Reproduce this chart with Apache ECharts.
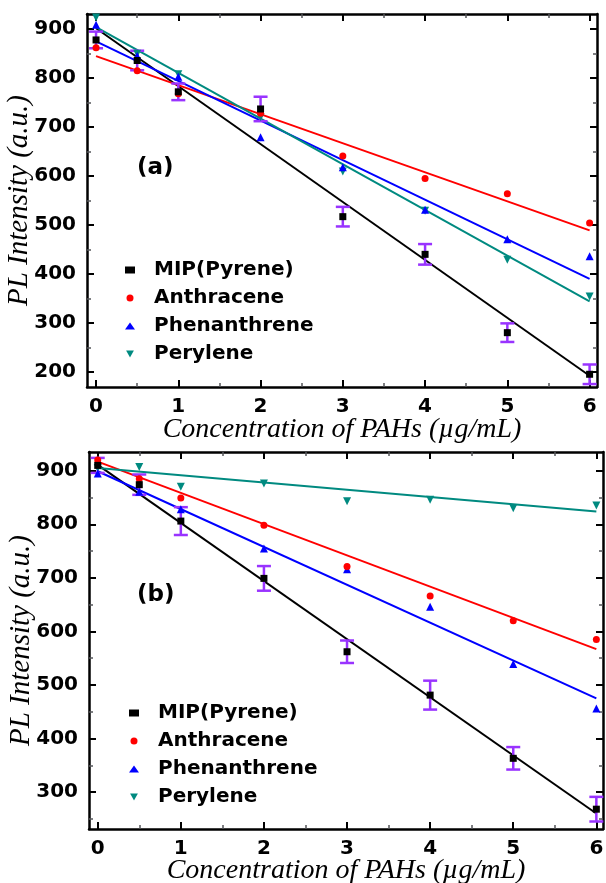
<!DOCTYPE html>
<html>
<head>
<meta charset="utf-8">
<script src="https://cdn.jsdelivr.net/npm/echarts@6/dist/echarts.min.js"></script>
<style>
  html, body { margin: 0; padding: 0; background: #fff; }
  #chart { width: 606px; height: 883px; }
</style>
</head>
<body>
<div id="chart"></div>
<script>
// concentrations (ug/mL)
var xConc = [0, 0.5, 1, 2, 3, 4, 5, 6];
var seriesNames = ['MIP(Pyrene)', 'Anthracene', 'Phenanthrene', 'Perylene'];

// panel (a)
var aPyrene = [878, 836, 772, 737, 517, 440, 280, 195];
var aPyreneErr = [17, 20, 17, 25, 20, 21, 19, 20];
var aAnthracene = [862, 815, 768, 728, 641, 595, 564, 504];
var aPhenanthrene = [909, 845, 803, 679, 618, 531, 471, 436];
var aPerylene = [924, 850, 808, 720, 609, 529, 429, 354];
// fitted lines, value at x=0 and x=6
var aFitPyrene = [902, 192];
var aFitAnthracene = [845, 489];
var aFitPhenanthrene = [875, 390];
var aFitPerylene = [904, 344];

// panel (b)
var bPyrene = [910, 874, 806, 699, 562, 481, 363, 268];
var bPyreneErr = [14, 19, 26, 23, 21, 27, 21, 23];
var bAnthracene = [920, 885, 849, 798, 721, 666, 620, 585];
var bPhenanthrene = [895, 861, 828, 755, 716, 646, 539, 456];
var bPerylene = [905, 907, 870, 876, 843, 846, 830, 835];
var bFitPyrene = [911, 260];
var bFitAnthracene = [917, 567];
var bFitPhenanthrene = [899, 475];
var bFitPerylene = [905, 824];

var fitEnds = [0, 6];
var xTicks = [0, 1, 2, 3, 4, 5, 6];
var xMinor = [0.5, 1.5, 2.5, 3.5, 4.5, 5.5];
var aYTicks = [200, 300, 400, 500, 600, 700, 800, 900];
var aYMinor = [250, 350, 450, 550, 650, 750, 850];
var bYTicks = [300, 400, 500, 600, 700, 800, 900];
var bYMinor = [250, 350, 450, 550, 650, 750, 850];

var colors = ['#000000', '#ff0000', '#0000ff', '#008a80'];
var downTriangle = 'path://M0,0L10,0L5,9Z';
var symbols = ['rect', 'circle', 'triangle', downTriangle];
var symbolSizes = [7, 7, 8, 8];
var barColor = '#9933ff';

var tickFont = {fontFamily: 'DejaVu Sans', fontWeight: 'bold', fontSize: 20, color: '#000'};
var titleFont = {fontFamily: 'Liberation Serif', fontStyle: 'italic', fontSize: 28, color: '#000'};
var yTitleFont = {fontFamily: 'Liberation Serif', fontStyle: 'italic', fontSize: 29, color: '#000'};

function makeXAxes(grid, min, max, gap) {
    var base = {type: 'value', gridIndex: grid, min: min, max: max, splitLine: {show: false}};
    return [
        Object.assign({}, base, {
            position: 'bottom',
            axisLine: {onZero: false, lineStyle: {color: '#000', width: 2.5}},
            axisTick: {inside: true, length: 7, customValues: xTicks, lineStyle: {width: 2}},
            axisLabel: Object.assign({customValues: xTicks, margin: 10}, tickFont),
            name: 'Concentration of PAHs (\u00b5g/mL)',
            nameLocation: 'middle',
            nameGap: gap,
            nameMoveOverlap: false,
            nameTextStyle: titleFont
        }),
        Object.assign({}, base, {
            position: 'bottom', axisLine: {show: false, onZero: false}, axisLabel: {show: false},
            axisTick: {inside: true, length: 4, customValues: xMinor, lineStyle: {width: 1.5}}
        }),
        Object.assign({}, base, {
            position: 'top', axisLine: {onZero: false, lineStyle: {color: '#000', width: 2.5}}, axisLabel: {show: false},
            axisTick: {inside: true, length: 7, customValues: xTicks, lineStyle: {width: 2}}
        }),
        Object.assign({}, base, {
            position: 'top', axisLine: {show: false, onZero: false}, axisLabel: {show: false},
            axisTick: {inside: true, length: 4, customValues: xMinor, lineStyle: {width: 1.5}}
        })
    ];
}

function makeYAxes(grid, min, max, ticks, minor) {
    var base = {type: 'value', gridIndex: grid, min: min, max: max, splitLine: {show: false}};
    return [
        Object.assign({}, base, {
            position: 'left',
            axisLine: {show: true, onZero: false, lineStyle: {color: '#000', width: 2.5}},
            axisTick: {show: true, inside: true, length: 7, customValues: ticks, lineStyle: {width: 2}},
            axisLabel: Object.assign({customValues: ticks, margin: 11}, tickFont),
            name: 'PL Intensity (a.u.)',
            nameLocation: 'middle',
            nameGap: 53,
            nameMoveOverlap: false,
            nameTextStyle: yTitleFont
        }),
        Object.assign({}, base, {
            position: 'left', axisLine: {show: false, onZero: false}, axisLabel: {show: false},
            axisTick: {show: true, inside: true, length: 4, customValues: minor, lineStyle: {width: 1.5}}
        }),
        Object.assign({}, base, {
            position: 'right', axisLine: {show: true, onZero: false, lineStyle: {color: '#000', width: 2.5}}, axisLabel: {show: false},
            axisTick: {show: true, inside: true, length: 7, customValues: ticks, lineStyle: {width: 2}}
        }),
        Object.assign({}, base, {
            position: 'right', axisLine: {show: false, onZero: false}, axisLabel: {show: false},
            axisTick: {show: true, inside: true, length: 4, customValues: minor, lineStyle: {width: 1.5}}
        })
    ];
}

function pairs(ys) {
    return xConc.map(function (x, i) { return [x, ys[i]]; });
}

function errData(ys, errs) {
    return xConc.map(function (x, i) { return [x, ys[i] - errs[i], ys[i] + errs[i]]; });
}

function errorBarItem(params, api) {
    var x = api.value(0);
    var lo = api.coord([x, api.value(1)]);
    var hi = api.coord([x, api.value(2)]);
    var half = 7;
    var style = {stroke: barColor, lineWidth: 2.5};
    return {
        type: 'group',
        children: [
            {type: 'line', shape: {x1: lo[0], y1: lo[1], x2: hi[0], y2: hi[1]}, style: style},
            {type: 'line', shape: {x1: lo[0] - half, y1: lo[1], x2: lo[0] + half, y2: lo[1]}, style: style},
            {type: 'line', shape: {x1: hi[0] - half, y1: hi[1], x2: hi[0] + half, y2: hi[1]}, style: style}
        ]
    };
}

function panelSeries(axisIdx, pts, err, fits) {
    var out = [];
    for (var i = 0; i < 4; i++) {
        out.push({
            name: 'fit' + axisIdx + '_' + i,
            type: 'line',
            xAxisIndex: axisIdx, yAxisIndex: axisIdx,
            data: fitEnds.map(function (x, k) { return [x, fits[i][k]]; }),
            symbol: 'none',
            lineStyle: {color: colors[i], width: 2},
            z: 2,
            silent: true
        });
    }
    out.push({
        type: 'custom',
        xAxisIndex: axisIdx, yAxisIndex: axisIdx,
        renderItem: errorBarItem,
        data: err,
        z: 3
    });
    for (var j = 3; j >= 0; j--) {
        out.push({
            name: seriesNames[j],
            type: 'scatter',
            xAxisIndex: axisIdx, yAxisIndex: axisIdx,
            data: pts[j],
            symbol: symbols[j],
            symbolSize: symbolSizes[j],
            itemStyle: {color: colors[j], opacity: 1},
            z: 4
        });
    }
    return out;
}

function makeLegend(left, top) {
    return {
        orient: 'vertical',
        left: left, top: top,
        itemWidth: 10, itemHeight: 7, itemGap: 8,
        textStyle: {fontFamily: 'DejaVu Sans', fontWeight: 'bold', fontSize: 20, color: '#000', padding: [0, 0, 0, 14]},
        data: seriesNames,
        selectedMode: false
    };
}

var chart = echarts.init(document.getElementById('chart'), null, {renderer: 'canvas'});

var seriesA = panelSeries(0,
    [pairs(aPyrene), pairs(aAnthracene), pairs(aPhenanthrene), pairs(aPerylene)],
    errData(aPyrene, aPyreneErr),
    [aFitPyrene, aFitAnthracene, aFitPhenanthrene, aFitPerylene]);
var seriesB = panelSeries(4,
    [pairs(bPyrene), pairs(bAnthracene), pairs(bPhenanthrene), pairs(bPerylene)],
    errData(bPyrene, bPyreneErr),
    [bFitPyrene, bFitAnthracene, bFitPhenanthrene, bFitPerylene]);

var option = {
    backgroundColor: '#fff',
    animation: false,
    grid: [
        {left: 87, top: 14, width: 510, height: 373, containLabel: false, outerBoundsMode: 'none'},
        {left: 89, top: 452, width: 514, height: 377, containLabel: false, outerBoundsMode: 'none'}
    ],
    xAxis: makeXAxes(0, -0.11, 6.09, 29).concat(makeXAxes(1, -0.105, 6.08, 28)),
    yAxis: makeYAxes(0, 169, 931, aYTicks, aYMinor).concat(makeYAxes(1, 231, 935, bYTicks, bYMinor)),
    legend: [makeLegend(120, 255), makeLegend(124, 698)],
    graphic: [
        {type: 'text', left: 137, top: 157, style: {text: '(a)', font: 'bold 23px "DejaVu Sans"', fill: '#000'}},
        {type: 'text', left: 137, top: 584, style: {text: '(b)', font: 'bold 23px "DejaVu Sans"', fill: '#000'}}
    ],
    series: seriesA.concat(seriesB)
};

chart.setOption(option);
</script>
</body>
</html>
